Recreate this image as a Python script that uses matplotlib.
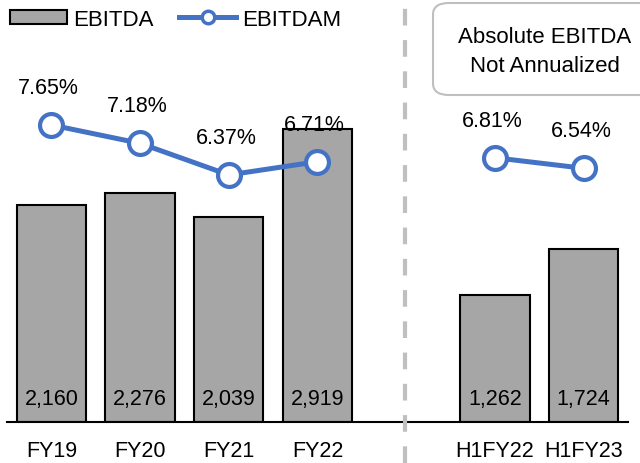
import matplotlib
matplotlib.use("Agg")
import matplotlib.pyplot as plt
from matplotlib.patches import FancyBboxPatch, Patch
from matplotlib.lines import Line2D

categories = ["FY19", "FY20", "FY21", "FY22", "", "H1FY22", "H1FY23"]
ebitda = [2160, 2276, 2039, 2919, None, 1262, 1724]
ebitdam = [7.65, 7.18, 6.37, 6.71, None, 6.81, 6.54]

BAR = "#a6a6a6"
BLUE = "#4472c4"
SEP = "#bfbfbf"

plt.rcParams["font.family"] = ["Liberation Sans", "DejaVu Sans"]

fig = plt.figure(figsize=(6.4, 4.64), dpi=100)
ax = fig.add_axes([7 / 640, 41 / 464, 621 / 640, 423 / 464])
ax2 = ax.twinx()

xs = list(range(len(categories)))
bx = [x for x, v in zip(xs, ebitda) if v is not None]
bv = [v for v in ebitda if v is not None]
ax.bar(bx, bv, width=0.78, color=BAR, edgecolor="black", linewidth=1.5, zorder=2)
for x, v in zip(bx, bv):
    ax.text(x, 130, f"{v:,}", ha="center", va="bottom", fontsize=15.5, zorder=3)

ax.set_xlim(-0.5, 6.5)
ax.set_ylim(0, 4213)
ax.set_xticks(xs)
ax.set_xticklabels(categories, fontsize=15.5)
ax.tick_params(axis="x", length=0, pad=13)
ax.set_yticks([])
for s in ["top", "right", "left"]:
    ax.spines[s].set_visible(False)
ax.spines["bottom"].set_linewidth(1.5)

# margin line, two segments
for seg in (slice(0, 4), slice(5, 7)):
    sx = xs[seg]
    sv = ebitdam[seg]
    ax2.plot(sx, sv, color=BLUE, linewidth=3.6, marker="o", markersize=16.5,
             markerfacecolor="white", markeredgecolor=BLUE, markeredgewidth=3, zorder=4)
    for x, v in zip(sx, sv):
        ax2.annotate(f"{v:.2f}%", (x, v), xytext=(-2, 27), textcoords="offset points",
                     ha="center", va="center", fontsize=15.5)
ax2.set_ylim(0.035, 10.88)
ax2.set_yticks([])
for s in ["top", "right", "left", "bottom"]:
    ax2.spines[s].set_visible(False)

# dashed separator
fig.add_artist(Line2D([405 / 640, 405 / 640], [0, 1], color=SEP, linewidth=3,
                      linestyle=(0, (4, 3.5))))

# note box
box = FancyBboxPatch((433 / 640, (464 - 96) / 464), 230 / 640, 92 / 464,
                     boxstyle="round,pad=0,rounding_size=0.025", transform=fig.transFigure,
                     facecolor="white", edgecolor=SEP, linewidth=1.5, clip_on=False)
fig.add_artist(box)
fig.text(545 / 640, (464 - 52) / 464, "Absolute EBITDA\nNot Annualized", ha="center",
         va="center", fontsize=16, linespacing=1.5)

handles = [Patch(facecolor=BAR, edgecolor="black", linewidth=1.5),
           Line2D([], [], color=BLUE, linewidth=3.6, marker="o", markersize=9,
                  markerfacecolor="white", markeredgecolor=BLUE, markeredgewidth=2.5)]
fig.legend(handles, ["EBITDA", "EBITDAM"], loc="upper left", bbox_to_anchor=(0.0, 1.0),
           ncol=2, frameon=False, fontsize=16, handlelength=2.56, handleheight=0.62,
           handletextpad=0.27, columnspacing=1.17, borderaxespad=0, borderpad=0.45)

fig.savefig("out.png", dpi=100)
